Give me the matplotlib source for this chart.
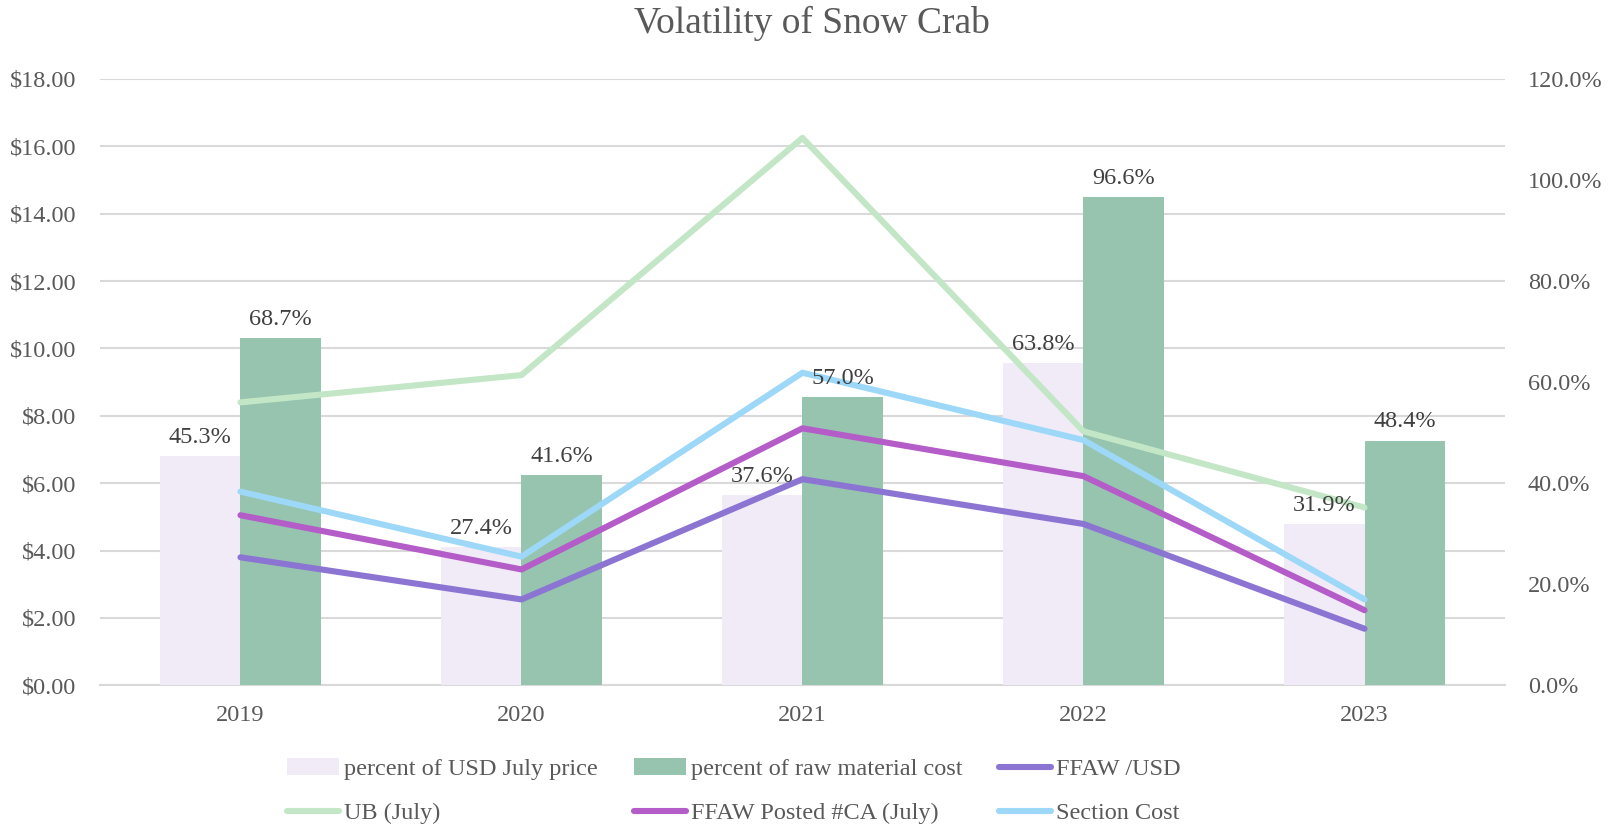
import matplotlib.pyplot as plt
import numpy as np
from matplotlib.ticker import FuncFormatter

plt.rcParams['font.family'] = ['Liberation Serif', 'DejaVu Serif']

years = ['2019', '2020', '2021', '2022', '2023']
pct_usd_july = [45.3, 27.4, 37.6, 63.8, 31.9]
pct_raw_material = [68.7, 41.6, 57.0, 96.6, 48.4]
ffaw_usd = [3.80, 2.55, 6.12, 4.79, 1.68]
ub_july = [8.40, 9.21, 16.25, 7.54, 5.28]
ffaw_posted_ca = [5.05, 3.44, 7.63, 6.21, 2.23]
section_cost = [5.75, 3.82, 9.28, 7.28, 2.55]

txt = '#595959'
grid_c = '#D9D9D9'
fs = 17.5

fig = plt.figure(figsize=(16.23, 8.26), dpi=100)
ax = fig.add_axes([0.0616, 0.1703, 0.8657, 0.7341])
ax2 = ax.twinx()
ax3 = ax.twinx()

x = np.arange(len(years))
w = 0.285

# bars on secondary (percent) axis
b1 = ax2.bar(x - w / 2, pct_usd_july, w, color='#F0EBF7', label='percent of USD July price')
b2 = ax2.bar(x + w / 2, pct_raw_material, w, color='#96C4AF', label='percent of raw material cost')

# lines on top
lw = 4.4
l1, = ax3.plot(x, ffaw_usd, color='#8C74D2', lw=lw, solid_capstyle='round', label='FFAW /USD')
l2, = ax3.plot(x, ub_july, color='#C3E7C6', lw=lw, solid_capstyle='round', label='UB (July)')
l3, = ax3.plot(x, ffaw_posted_ca, color='#B45CC8', lw=lw, solid_capstyle='round', label='FFAW Posted #CA (July)')
l4, = ax3.plot(x, section_cost, color='#9DD8F8', lw=lw, solid_capstyle='round', label='Section Cost')

# data labels above bars
for bars, vals in ((b1, pct_usd_july), (b2, pct_raw_material)):
    for r, v in zip(bars, vals):
        ax3.annotate('%.1f%%' % v, (r.get_x() + r.get_width() / 2, v),
                     xycoords=ax2.transData, xytext=(0, 6), textcoords='offset points',
                     ha='center', va='bottom', fontsize=fs, color='#404040', zorder=10)

# left axis
ax.set_xlim(-0.5, len(years) - 0.5)
ax.set_ylim(0, 18)
ax.set_yticks(np.arange(0, 19, 2))
ax.yaxis.set_major_formatter(FuncFormatter(lambda v, p: '$%.2f' % v))
ax.grid(axis='y', color=grid_c, lw=1.5)
ax.set_axisbelow(True)
ax.set_xticks(x)
ax.set_xticklabels(years)

ax2.set_ylim(0, 120)
ax2.set_yticks(np.arange(0, 121, 20))
ax2.yaxis.set_major_formatter(FuncFormatter(lambda v, p: '%.1f%%' % v))

ax3.set_ylim(0, 18)
ax3.set_yticks([])

for a in (ax, ax2, ax3):
    for s in a.spines.values():
        s.set_visible(False)
    a.tick_params(length=0, labelsize=fs, colors=txt)
ax.spines['bottom'].set_visible(True)
ax.spines['bottom'].set_color(grid_c)
ax.spines['bottom'].set_linewidth(1.5)
ax.tick_params(axis='x', pad=14)
ax.tick_params(axis='y', pad=17)
ax2.tick_params(axis='y', pad=16.5)

fig.suptitle('Volatility of Snow Crab', y=0.993, fontsize=27, color=txt)

handles = [b1, l2, b2, l3, l1, l4]
leg = fig.legend(handles, [h.get_label() for h in handles], ncol=3, loc='center',
                 bbox_to_anchor=(0.452, 0.042), frameon=False, fontsize=fs,
                 handlelength=2.14, handletextpad=0.2, columnspacing=1.5,
                 labelspacing=0.9, labelcolor=txt, borderpad=0)

fig.savefig('out.png', dpi=100)
